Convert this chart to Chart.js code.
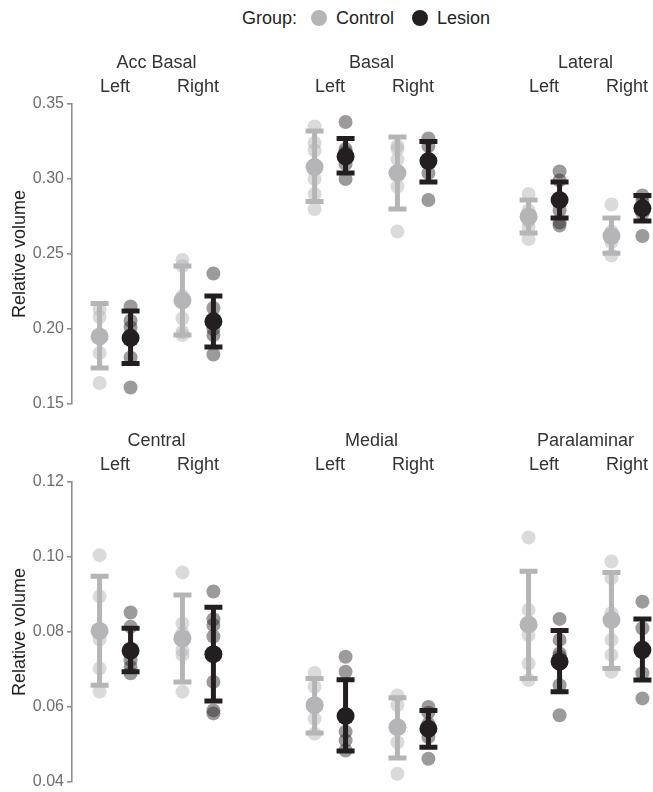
<!DOCTYPE html>
<html>
<head>
<meta charset="utf-8">
<script src="https://cdn.jsdelivr.net/npm/chart.js@4.4.1/dist/chart.umd.min.js"></script>
<style>
  body { margin:0; width:653px; height:792px; overflow:hidden; background:#fff; position:relative;
         font-family:"Liberation Sans", Arial, sans-serif; }
  #legend { position:absolute; left:242px; top:8px; height:20px; font-size:18px; color:#222;
            display:flex; align-items:center; white-space:nowrap; }
  .dot { display:inline-block; width:16px; height:16px; border-radius:50%; margin:0 9px 0 14px; }
</style>
</head>
<body>
<div id="legend">Group:<span class="dot" style="background:#b5b5b8"></span>Control<span class="dot" style="background:#231f20;margin-left:18px"></span>Lesion</div>
<script>
const regions = ['Acc Basal', 'Basal', 'Lateral', 'Central', 'Medial', 'Paralaminar'];
const sides = ['Left', 'Right'];

// individual animals, per region: [Left, Right]
const controlValues = [
  [[0.213, 0.208, 0.196, 0.194, 0.184, 0.164], [0.246, 0.242, 0.222, 0.218, 0.207, 0.198, 0.196]],
  [[0.335, 0.324, 0.319, 0.308, 0.300, 0.290, 0.280], [0.322, 0.320, 0.313, 0.304, 0.295, 0.265]],
  [[0.290, 0.279, 0.276, 0.272, 0.268, 0.260], [0.283, 0.265, 0.262, 0.258, 0.249]],
  [[0.1005, 0.0895, 0.0805, 0.078, 0.0703, 0.0641], [0.0959, 0.0823, 0.0797, 0.0783, 0.0752, 0.0739, 0.0641]],
  [[0.0691, 0.0654, 0.0605, 0.0569, 0.0529], [0.0631, 0.0605, 0.0551, 0.0506, 0.0422]],
  [[0.1052, 0.0859, 0.0823, 0.0792, 0.0716, 0.0672], [0.0988, 0.0944, 0.085, 0.0832, 0.0779, 0.0739, 0.0694]]
];
const lesionValues = [
  [[0.215, 0.2055, 0.201, 0.196, 0.181, 0.161], [0.237, 0.214, 0.207, 0.205, 0.200, 0.196, 0.183]],
  [[0.338, 0.320, 0.318, 0.315, 0.310, 0.300], [0.327, 0.322, 0.312, 0.304, 0.286]],
  [[0.305, 0.299, 0.286, 0.279, 0.271, 0.269], [0.289, 0.286, 0.281, 0.277, 0.262]],
  [[0.0852, 0.0814, 0.0752, 0.0725, 0.0707, 0.069], [0.0908, 0.0834, 0.0819, 0.0788, 0.0743, 0.0667, 0.0591, 0.0583]],
  [[0.0734, 0.0694, 0.0578, 0.0534, 0.0511, 0.0484], [0.060, 0.0585, 0.0555, 0.054, 0.052, 0.0462]],
  [[0.0835, 0.0779, 0.0743, 0.0735, 0.0658, 0.0578], [0.0881, 0.081, 0.076, 0.0745, 0.069, 0.0623]]
];

// group mean and error bar ends, per region: [Left, Right]
const controlMean = [[0.195, 0.219], [0.308, 0.304], [0.275, 0.262], [0.0803, 0.0783], [0.0605, 0.0546], [0.082, 0.0832]];
const controlLow  = [[0.174, 0.196], [0.285, 0.280], [0.264, 0.2505], [0.0658, 0.0667], [0.0531, 0.0464], [0.0676, 0.0703]];
const controlHigh = [[0.217, 0.242], [0.332, 0.328], [0.286, 0.274], [0.0949, 0.0899], [0.0676, 0.0625], [0.0962, 0.0959]];
const lesionMean  = [[0.194, 0.205], [0.315, 0.312], [0.286, 0.2805], [0.075, 0.0741], [0.0576, 0.0542], [0.0721, 0.0752]];
const lesionLow   = [[0.177, 0.188], [0.304, 0.298], [0.274, 0.272], [0.0694, 0.0616], [0.0483, 0.0493], [0.0641, 0.0672]];
const lesionHigh  = [[0.212, 0.222], [0.327, 0.325], [0.298, 0.289], [0.081, 0.0866], [0.0673, 0.0591], [0.0804, 0.0835]];

// y axis per row
const yMin = [0.15, 0.04];
const yMax = [0.35, 0.12];
const yStep = [0.05, 0.02];

const CONTROL = '#b5b5b8';
const LESION = '#231f20';
const OFFSET = 0.187;
const EDGE = 9; // room Chart.js keeps for the largest point

Chart.defaults.font.family = '"Liberation Sans", Arial, sans-serif';
Chart.defaults.animation = false;

const errorBars = {
  id: 'errorBars',
  beforeDatasetsDraw(chart, args, opts) {
    const { ctx, scales: { x, y } } = chart;
    const r = opts.region;
    ctx.save();
    ctx.lineWidth = 5;
    ctx.lineCap = 'butt';
    [[controlLow, controlHigh, CONTROL, -OFFSET], [lesionLow, lesionHigh, LESION, OFFSET]].forEach(([lo, hi, color, dx]) => {
      sides.forEach((s, i) => {
        const px = x.getPixelForValue(i + dx);
        const top = y.getPixelForValue(hi[r][i]);
        const bot = y.getPixelForValue(lo[r][i]);
        ctx.strokeStyle = color;
        ctx.beginPath();
        ctx.moveTo(px, top); ctx.lineTo(px, bot);
        ctx.moveTo(px - 9, top); ctx.lineTo(px + 9, top);
        ctx.moveTo(px - 9, bot); ctx.lineTo(px + 9, bot);
        ctx.stroke();
      });
    });
    ctx.restore();
  }
};

const points = (values, r, dx) => values[r].flatMap((vals, i) => vals.map(v => ({ x: i + dx, y: v })));
const means = (m, r, dx) => m[r].map((v, i) => ({ x: i + dx, y: v }));
const noPadding = s => { s.paddingLeft = 0; s.paddingRight = 0; s.paddingTop = 0; s.paddingBottom = 0; };

regions.forEach((name, r) => {
  const row = Math.floor(r / 3), col = r % 3;
  const areaLeft = Math.round(72 + col * 214.5);
  const left = col === 0 ? 0 : areaLeft - EDGE;
  const canvas = document.createElement('canvas');
  canvas.width = areaLeft + 169 + EDGE - left;
  canvas.height = 364 + EDGE;
  canvas.style.cssText = `position:absolute;left:${left}px;top:${row === 0 ? 40 : 418}px`;
  document.body.appendChild(canvas);

  new Chart(canvas, {
    type: 'scatter',
    data: {
      datasets: [
        { data: means(controlMean, r, -OFFSET), backgroundColor: CONTROL, pointRadius: 9 },
        { data: means(lesionMean, r, OFFSET), backgroundColor: LESION, pointRadius: 9 },
        { data: points(controlValues, r, -OFFSET), backgroundColor: 'rgba(181,181,184,0.5)', pointRadius: 7 },
        { data: points(lesionValues, r, OFFSET), backgroundColor: 'rgba(35,31,32,0.45)', pointRadius: 7 }
      ]
    },
    options: {
      responsive: false,
      clip: false,
      layout: { padding: 0 },
      elements: { point: { borderWidth: 0, hoverRadius: 9 } },
      plugins: {
        legend: { display: false },
        tooltip: { enabled: false },
        title: { display: true, text: name, fullSize: false, color: '#333', font: { size: 18, weight: 'normal' },
                 padding: { top: 12, bottom: 0 } },
        errorBars: { region: r }
      },
      scales: {
        x: {
          type: 'linear', position: 'top', min: -0.52, max: 1.52,
          grid: { display: false, drawTicks: false }, border: { display: false },
          afterBuildTicks: s => { s.ticks = sides.map((_, i) => ({ value: i })); },
          afterFit: s => { s.height = 30.4; noPadding(s); },
          ticks: { padding: 6, color: '#333', font: { size: 18 }, callback: v => sides[v] }
        },
        y: {
          display: col === 0,
          min: yMin[row], max: yMax[row],
          afterFit: s => { if (col === 0) s.width = 72; noPadding(s); },
          grid: { drawOnChartArea: false, drawTicks: true, tickLength: 5, color: '#8e8e8e', lineWidth: 1.6 },
          border: { color: '#8e8e8e', width: 1.6 },
          ticks: { stepSize: yStep[row], padding: 3, color: '#6d6e71', font: { size: 16 }, callback: v => v.toFixed(2) },
          title: { display: true, text: 'Relative volume', color: '#222', font: { size: 18 }, padding: { top: 9, bottom: 0 } }
        }
      }
    },
    plugins: [errorBars]
  });
});
</script>
</body>
</html>
